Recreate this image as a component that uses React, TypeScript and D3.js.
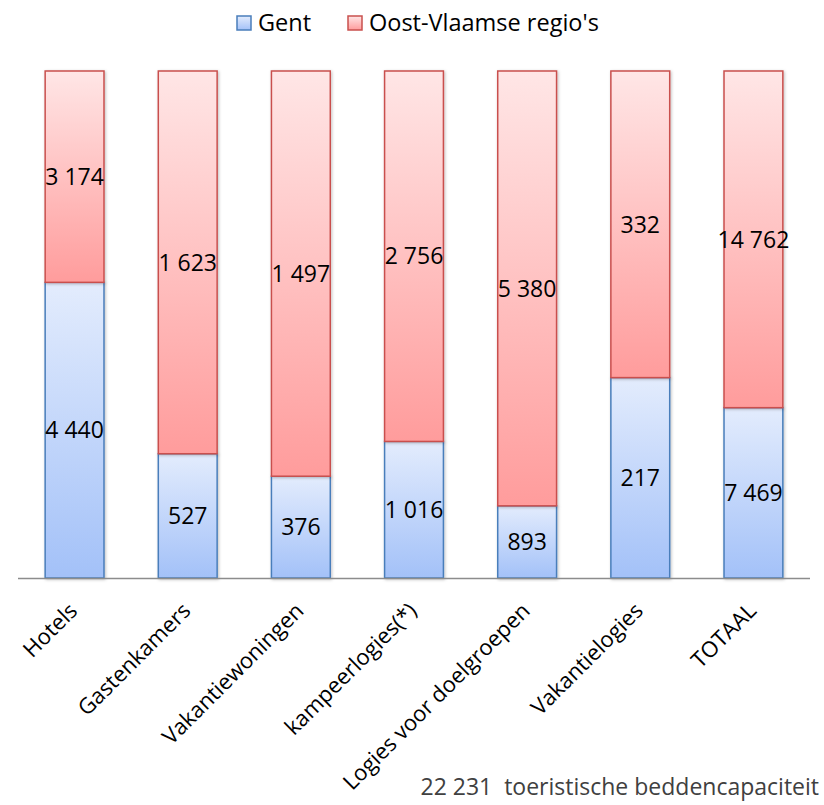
import { useEffect, useRef } from "react";
import * as d3 from "d3";

// categories and series values
const categories = [
  "Hotels",
  "Gastenkamers",
  "Vakantiewoningen",
  "kampeerlogies(*)",
  "Logies voor doelgroepen",
  "Vakantielogies",
  "TOTAAL",
];
const gent = [4440, 527, 376, 1016, 893, 217, 7469];
const oostVlaanderen = [3174, 1623, 1497, 2756, 5380, 332, 14762];
const seriesNames = ["Gent", "Oost-Vlaamse regio's"];
const footnoteLabel = "toeristische beddencapaciteit";

const FONT = "'Open Sans', 'Noto Sans', sans-serif";

const App = () => {
  const ref = useRef<SVGSVGElement>(null);

  useEffect(() => {
    const width = 824,
      height = 805;
    const svg = d3.select(ref.current);
    svg.selectAll("*").remove();

    const nl = d3.formatLocale({
      decimal: ",",
      thousands: " ",
      grouping: [3],
      currency: ["", ""],
    });
    const fmt = nl.format(",d");

    // gradients + shadow
    const defs = svg.append("defs");
    const grads = [
      { id: "gBlue", top: "#e3ecfd", bottom: "#a3c1f8", stroke: "#4a7ebb" },
      { id: "gRed", top: "#ffe6e6", bottom: "#ff9c9c", stroke: "#c9504e" },
    ];
    grads.forEach((g) => {
      const lg = defs
        .append("linearGradient")
        .attr("id", g.id)
        .attr("x1", 0)
        .attr("y1", 0)
        .attr("x2", 0)
        .attr("y2", 1);
      lg.append("stop").attr("offset", "0%").attr("stop-color", g.top);
      lg.append("stop").attr("offset", "100%").attr("stop-color", g.bottom);
    });
    defs
      .append("filter")
      .attr("id", "shadow")
      .attr("x", "-20%")
      .attr("y", "-5%")
      .attr("width", "140%")
      .attr("height", "110%")
      .append("feDropShadow")
      .attr("dx", 1)
      .attr("dy", 1)
      .attr("stdDeviation", 1.5)
      .attr("flood-color", "#000")
      .attr("flood-opacity", 0.25);

    const rows = categories.map((c, i) => ({
      cat: c,
      gent: gent[i],
      oost: oostVlaanderen[i],
    }));
    const stack = d3
      .stack<any>()
      .keys(["gent", "oost"])
      .offset(d3.stackOffsetExpand);
    const layers = stack(rows);

    const x = d3
      .scaleBand()
      .domain(categories)
      .range([18, 810])
      .paddingInner(0.48)
      .paddingOuter(0.24);
    const y = d3.scaleLinear().domain([0, 1]).range([578, 71]);

    // bars
    const g = svg.append("g");
    layers.forEach((layer, li) => {
      const grad = grads[li];
      g.append("g")
        .selectAll("rect")
        .data(layer)
        .join("rect")
        .attr("x", (d) => x(d.data.cat)!)
        .attr("width", x.bandwidth())
        .attr("y", (d) => y(d[1]))
        .attr("height", (d) => y(d[0]) - y(d[1]))
        .attr("fill", `url(#${grad.id})`)
        .attr("stroke", grad.stroke)
        .attr("stroke-width", 1.5)
        .attr("filter", "url(#shadow)");
    });

    // value labels
    layers.forEach((layer) => {
      g.append("g")
        .selectAll("text")
        .data(layer)
        .join("text")
        .attr("x", (d) => x(d.data.cat)! + x.bandwidth() / 2)
        .attr("y", (d) => (y(d[0]) + y(d[1])) / 2)
        .attr("dy", "0.36em")
        .attr("text-anchor", "middle")
        .attr("font-family", FONT)
        .attr("font-size", 23)
        .attr("fill", "#000")
        .text((d) => fmt(d.data[layer.key]));
    });

    // axis line
    svg
      .append("line")
      .attr("x1", 18)
      .attr("x2", 810)
      .attr("y1", y(0) + 0.5)
      .attr("y2", y(0) + 0.5)
      .attr("stroke", "#8c8c8c")
      .attr("stroke-width", 1.5);

    // category labels, rotated
    svg
      .append("g")
      .selectAll("text")
      .data(categories)
      .join("text")
      .attr(
        "transform",
        (d) => `translate(${x(d)! + x.bandwidth() / 2 - 7},${y(0) + 23}) rotate(-45)`
      )
      .attr("text-anchor", "end")
      .attr("dy", "0.72em")
      .attr("font-family", FONT)
      .attr("font-size", 22)
      .attr("fill", "#000")
      .text((d) => d);

    // legend
    const legend = svg.append("g").attr("font-family", FONT).attr("font-size", 23.5);
    const legendItems = [
      { name: seriesNames[0], x: 237, grad: grads[0] },
      { name: seriesNames[1], x: 348, grad: grads[1] },
    ];
    legendItems.forEach((it) => {
      legend
        .append("rect")
        .attr("x", it.x)
        .attr("y", 16)
        .attr("width", 14)
        .attr("height", 14)
        .attr("fill", `url(#${it.grad.id})`)
        .attr("stroke", it.grad.stroke)
        .attr("stroke-width", 1.5);
      legend
        .append("text")
        .attr("x", it.x + 21)
        .attr("y", 31)
        .attr("fill", "#000")
        .text(it.name);
    });

    // total footnote
    const total = d3.sum(gent.slice(-1)) + d3.sum(oostVlaanderen.slice(-1));
    svg
      .append("text")
      .attr("x", 819)
      .attr("y", 795)
      .attr("text-anchor", "end")
      .attr("font-family", FONT)
      .attr("font-size", 23)
      .attr("fill", "#404040")
      .attr("xml:space", "preserve")
      .text(`${fmt(total)}  ${footnoteLabel}`);

    svg.attr("width", width).attr("height", height);
  }, []);

  return (
    <svg
      ref={ref}
      width={824}
      height={805}
      style={{ position: "absolute", left: 0, top: 0, background: "#fff" }}
    />
  );
};

export default App;
